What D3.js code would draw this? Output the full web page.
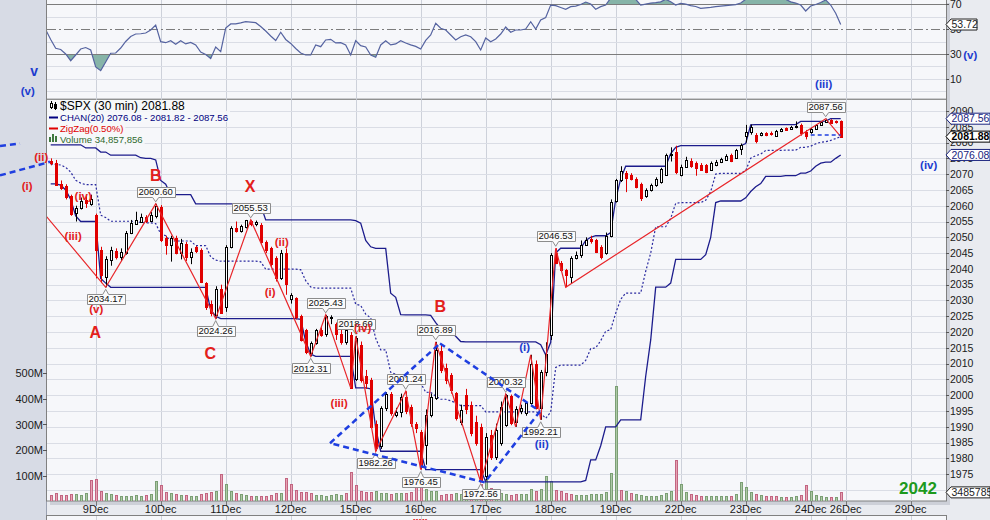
<!DOCTYPE html>
<html>
<head>
<meta charset="utf-8">
<title>$SPX 30 min</title>
<script src="https://d3js.org/d3.v7.min.js"></script>
<style>
body{margin:0;background:#e9ebf0;overflow:hidden}
svg{display:block}
text{font-family:"Liberation Sans",Arial,sans-serif}
</style>
</head>
<body>
<div id="chart"></div>
<script>
// 30 min bars, dec 8 11:30 -> dec 24 close (half day)
const dayStart = [9, 22, 35, 48, 61, 74, 87, 100, 113, 126, 139, 152, 159, 172]
const dayLabel = ['9Dec','10Dec','11Dec','12Dec','15Dec','16Dec','17Dec','18Dec','19Dec','22Dec','23Dec','24Dec','26Dec','29Dec']

const opens = [
  2074.2, 2073.6, 2067.0, 2066.3, 2063.1, 2057.6, 2059.2, 2061.8, 2060.6, 2057.0,
  2046.0, 2037.5, 2042.8, 2045.8, 2043.7, 2045.0, 2051.3, 2054.3, 2055.0, 2056.4,
  2055.2, 2056.6, 2059.7, 2049.7, 2047.6, 2049.7, 2045.0, 2048.0, 2043.7, 2047.0,
  2046.0, 2035.5, 2029.0, 2025.5, 2033.5, 2028.0, 2047.0, 2052.9, 2052.0, 2053.2,
  2055.3, 2054.2, 2054.0, 2048.6, 2046.5, 2043.4, 2037.0, 2045.0, 2030.4, 2030.7,
  2025.0, 2020.8, 2013.5, 2016.5, 2020.6, 2019.5, 2024.5, 2022.5, 2019.5, 2017.0,
  2019.0, 2005.0, 2016.0, 2006.0, 2004.8, 1991.0, 1984.0, 1995.8, 2000.5, 1993.8,
  1994.8, 1999.5, 1996.4, 1991.0, 1988.5, 1984.2, 1993.7, 1999.0, 2014.0, 2008.5,
  2006.4, 2000.6, 1991.5, 2000.0, 1997.0, 1991.4, 1990.0, 1974.4, 1987.4, 1980.5,
  1984.8, 1990.6, 1999.9, 1991.5, 1995.0, 1994.3, 1997.5, 2010.0, 1996.0, 2007.5,
  2019.0, 2045.0, 2042.0, 2039.7, 2037.5, 2043.4, 2044.5, 2047.7, 2049.4, 2049.0,
  2047.0, 2045.0, 2050.5, 2061.5, 2068.0, 2070.3, 2069.8, 2068.5, 2067.0, 2063.0,
  2065.0, 2066.5, 2067.5, 2069.8, 2076.0, 2077.0, 2069.8, 2072.3, 2074.3, 2073.5,
  2072.9, 2072.9, 2071.4, 2072.9, 2073.7, 2074.6, 2076.1, 2075.2, 2078.0, 2082.0,
  2083.5, 2082.5, 2082.4, 2083.0, 2083.0, 2082.2, 2083.6, 2084.5, 2084.2, 2084.8,
  2085.7, 2083.3, 2083.2, 2084.4, 2085.5, 2086.4, 2087.2, 2086.8, 2086.7
]
const highs = [
  2075.0, 2074.5, 2068.0, 2066.8, 2063.5, 2060.0, 2062.6, 2063.0, 2063.5, 2057.5,
  2047.0, 2044.0, 2047.0, 2046.5, 2046.5, 2052.0, 2055.5, 2058.1, 2057.5, 2057.0,
  2058.0, 2060.6, 2060.2, 2050.5, 2050.5, 2050.5, 2049.5, 2048.5, 2046.5, 2047.3,
  2046.5, 2035.8, 2030.0, 2034.5, 2035.0, 2047.5, 2053.5, 2055.0, 2054.0, 2055.5,
  2055.53, 2055.3, 2054.5, 2049.0, 2047.0, 2044.0, 2046.0, 2046.5, 2032.3, 2031.0,
  2025.5, 2021.0, 2017.0, 2021.0, 2021.5, 2025.43, 2025.3, 2023.0, 2021.0, 2021.0,
  2020.0, 2018.69, 2017.0, 2008.0, 2005.5, 1992.0, 1996.5, 2001.0, 2001.0, 1996.0,
  2000.5, 2001.24, 1997.0, 1991.5, 1989.0, 1995.5, 2000.5, 2016.89, 2016.0, 2010.0,
  2007.0, 2001.0, 1997.0, 2002.0, 1998.0, 1993.5, 1991.0, 1988.0, 1989.0, 1991.0,
  1998.0, 2000.32, 2000.2, 1996.5, 1997.0, 1998.0, 2012.8, 2011.0, 2008.0, 2016.75,
  2045.0, 2046.53, 2042.5, 2040.0, 2044.0, 2045.5, 2049.0, 2050.0, 2050.5, 2049.5,
  2047.5, 2051.5, 2062.0, 2068.5, 2072.5, 2071.0, 2070.3, 2069.0, 2067.3, 2065.5,
  2067.0, 2069.0, 2072.0, 2076.5, 2078.5, 2079.0, 2073.0, 2075.5, 2075.0, 2074.0,
  2073.5, 2073.2, 2074.0, 2074.5, 2075.2, 2076.3, 2076.5, 2078.0, 2079.7, 2085.6,
  2085.7, 2083.0, 2083.3, 2083.3, 2083.5, 2084.0, 2084.6, 2084.8, 2085.3, 2086.7,
  2086.0, 2084.0, 2084.7, 2085.8, 2086.8, 2087.56, 2087.4, 2087.0, 2087.0
]
const lows = [
  2072.8, 2066.5, 2065.0, 2062.0, 2056.8, 2055.0, 2058.8, 2059.3, 2060.0, 2037.0,
  2035.5, 2034.17, 2041.0, 2043.0, 2042.5, 2044.5, 2051.0, 2054.0, 2054.6, 2054.5,
  2054.8, 2056.0, 2048.5, 2044.5, 2042.3, 2044.6, 2043.0, 2042.5, 2041.5, 2045.0,
  2035.5, 2027.0, 2025.0, 2024.26, 2025.8, 2026.4, 2046.5, 2051.5, 2051.5, 2052.8,
  2053.5, 2053.5, 2048.0, 2045.0, 2040.5, 2036.0, 2036.5, 2031.8, 2029.0, 2024.0,
  2017.0, 2013.0, 2012.31, 2016.0, 2018.5, 2018.5, 2022.5, 2017.5, 2016.0, 2016.0,
  2002.33, 2004.5, 2004.0, 2002.0, 1989.5, 1982.26, 1983.0, 1995.0, 1993.5, 1993.0,
  1993.0, 1994.0, 1990.0, 1988.0, 1976.45, 1978.0, 1993.0, 1998.5, 2007.0, 2003.5,
  2000.5, 1992.0, 1990.5, 1994.0, 1987.0, 1984.0, 1972.56, 1973.0, 1979.5, 1979.5,
  1984.0, 1990.0, 1990.5, 1990.0, 1994.0, 1993.5, 1997.0, 1995.5, 1992.21, 2006.0,
  2017.5, 2041.5, 2039.0, 2034.2, 2035.5, 2043.0, 2043.5, 2047.3, 2048.0, 2045.0,
  2043.0, 2044.5, 2050.0, 2061.0, 2067.5, 2064.3, 2068.0, 2065.5, 2061.5, 2062.5,
  2064.5, 2066.0, 2067.0, 2069.5, 2074.0, 2070.0, 2069.3, 2072.0, 2072.0, 2069.5,
  2071.0, 2070.3, 2071.0, 2072.5, 2073.5, 2074.3, 2073.8, 2075.0, 2076.08, 2080.0,
  2082.5, 2079.77, 2082.0, 2082.0, 2082.2, 2082.0, 2083.3, 2083.7, 2084.0, 2084.5,
  2082.2, 2081.0, 2082.8, 2084.2, 2085.3, 2086.2, 2085.9, 2086.0, 2081.86
]
const closes = [
  2073.6, 2066.6, 2065.5, 2062.8, 2057.4, 2059.2, 2061.6, 2060.8, 2062.1, 2046.0,
  2038.0, 2043.0, 2046.0, 2043.7, 2045.5, 2051.3, 2054.5, 2055.5, 2056.4, 2055.2,
  2057.0, 2059.8, 2049.2, 2047.6, 2049.7, 2045.0, 2048.1, 2043.7, 2045.5, 2045.7,
  2036.0, 2028.0, 2026.0, 2033.5, 2026.1, 2047.0, 2052.9, 2052.0, 2053.5, 2055.5,
  2054.2, 2054.9, 2048.6, 2046.0, 2041.5, 2037.0, 2045.0, 2035.3, 2031.8, 2024.9,
  2017.5, 2013.8, 2016.5, 2020.6, 2019.0, 2025.0, 2024.9, 2019.5, 2017.0, 2020.5,
  2002.33, 2018.0, 2004.8, 2004.0, 1990.0, 1983.2, 1995.8, 2000.5, 1994.5, 1994.8,
  1999.5, 1995.0, 1991.1, 1989.6, 1977.4, 1993.7, 1999.4, 2014.3, 2008.0, 2004.8,
  2001.7, 1992.7, 1995.3, 1995.5, 1988.0, 1984.8, 1972.8, 1986.9, 1980.5, 1989.0,
  1996.4, 2000.0, 1991.1, 1995.5, 1996.0, 1997.5, 2010.0, 1996.0, 2007.5, 2012.9,
  2044.4, 2042.0, 2039.7, 2038.0, 2043.4, 2044.5, 2047.5, 2049.2, 2048.7, 2045.5,
  2043.8, 2050.5, 2061.2, 2068.0, 2071.0, 2068.7, 2068.5, 2066.0, 2062.5, 2065.0,
  2066.5, 2068.5, 2071.5, 2076.0, 2076.5, 2070.7, 2072.3, 2074.5, 2072.7, 2072.0,
  2071.4, 2070.8, 2073.5, 2074.0, 2074.7, 2075.9, 2074.3, 2077.7, 2079.2, 2083.5,
  2085.0, 2080.5, 2083.0, 2082.4, 2082.6, 2083.6, 2084.2, 2084.1, 2085.0, 2085.3,
  2083.0, 2082.2, 2084.4, 2085.5, 2086.5, 2087.1, 2086.2, 2086.5, 2081.88
]
// 20 bars before the first visible one, only feed the price channel
const preHighs = [2076.5, 2077.5, 2078.0, 2078.5, 2078.8, 2079.0, 2079.3, 2078.0, 2077.8, 2078.3,
  2076.5, 2077.0, 2075.5, 2075.0, 2074.5, 2075.5, 2075.8, 2076.0, 2075.2, 2074.8]
const preLows = [2070.5, 2071.0, 2072.0, 2071.5, 2070.8, 2071.2, 2072.5, 2072.0, 2071.0, 2070.0,
  2069.5, 2070.2, 2071.0, 2070.0, 2069.0, 2068.5, 2068.0, 2067.5, 2066.9, 2068.0]

// volume in millions, r = down bar, g = up bar
const volumes = [
  25, 31, 25, 25, 27, 29, 25, 31, 83, 87,
  40, 31, 29, 25, 21, 21, 21, 25, 21, 25,
  29, 79, 64, 35, 31, 29, 25, 25, 21, 21,
  29, 33, 36, 40, 107, 68, 40, 33, 29, 25,
  21, 21, 21, 21, 25, 33, 33, 91, 68, 44,
  36, 36, 33, 25, 25, 21, 24, 29, 25, 34,
  116, 64, 42, 38, 38, 42, 34, 31, 29, 34,
  34, 31, 38, 77, 94, 47, 42, 42, 25, 29,
  29, 34, 29, 29, 29, 34, 68, 86, 51, 42,
  34, 29, 25, 29, 29, 29, 47, 42, 47, 99,
  81, 44, 42, 34, 29, 25, 25, 25, 29, 29,
  29, 38, 109, 450, 44, 42, 34, 29, 25, 21,
  21, 21, 25, 31, 40, 161, 68, 38, 29, 25,
  21, 21, 21, 21, 21, 21, 21, 29, 75, 57,
  38, 29, 25, 21, 21, 21, 18, 18, 18, 21,
  25, 64, 40, 25, 21, 18, 18, 18, 34.86
]
const volDir = 'rrrrrgggrr' + 'rggrgggggr' + 'ggrrgrgrgg' + 'rrrgrggrgg' + 'rgrrrrgrrr' +
  'rrrggggggr' + 'rrrrrgggrg' + 'grrrrgggrr' + 'rgggrgrgrg' + 'ggrrgggrgg' +
  'grrrrggggg' + 'ggggrgrggg' + 'gggggrggrr' + 'rgggggrggg' + 'grgrrrgrgg' + 'rrggggrgr'

// RSI, first value belongs to bar -1
const rsiValues = [49.5,
  41.7, 34.6, 33.6, 30.0, 24.6, 29.2, 34.0, 35.2, 33.2, 19.6,
  16.6, 23.6, 30.6, 30.8, 34.8, 40.1, 44.1, 46.1, 46.3, 46.9,
  49.3, 53.3, 39.9, 39.1, 40.7, 37.8, 40.7, 38.1, 39.3, 37.3,
  31.6, 29.6, 26.4, 35.6, 31.9, 50.9, 54.2, 54.2, 55.0, 56.0,
  55.6, 55.2, 52.1, 48.5, 44.5, 40.9, 47.5, 41.7, 38.5, 34.4,
  30.8, 29.2, 29.2, 37.3, 35.9, 41.3, 41.8, 38.9, 39.1, 37.3,
  29.2, 40.7, 36.7, 35.6, 29.2, 27.4, 37.3, 40.7, 37.3, 38.1,
  40.7, 38.9, 37.3, 36.1, 34.0, 40.9, 45.3, 54.7, 50.7, 49.3,
  45.3, 41.3, 43.9, 45.3, 43.9, 39.9, 33.2, 42.9, 39.9, 42.1,
  46.1, 51.7, 47.5, 49.3, 49.3, 50.1, 56.0, 50.1, 57.4, 59.4,
  69.4, 68.9, 67.4, 66.0, 68.1, 68.6, 69.8, 71.8, 70.2, 66.0,
  68.1, 69.4, 75, 78, 80, 79, 77, 74, 69.4, 70.2,
  71.0, 71.3, 72.0, 74, 72, 69.4, 70.8, 70.2, 69.0, 68.2,
  66.8, 67.2, 67.6, 68.1, 68.6, 69.0, 69.4, 69.8, 71.0, 74,
  77, 78, 76, 79, 80, 78, 76, 74, 72, 71,
  69.4, 64.6, 68.6, 69.8, 71.4, 73.5, 69.4, 62.8, 53.72
]

// zigzag 0.5% turning points
const zzBar = [-11, 11, 21, 33, 40, 52, 55, 60, 61, 65, 71, 74, 77, 86, 91, 93, 96, 98, 101, 103, 155, 158]
const zzPrice = [2075.8, 2034.17, 2060.60, 2024.26, 2055.53, 2012.31, 2025.43, 2002.33, 2018.69, 1982.26,
  2001.24, 1976.45, 2016.89, 1972.56, 2000.32, 1990.0, 2012.8, 1992.21, 2046.53, 2034.2, 2087.56, 2081.88]
const zzShown = [0, 1, 1, 1, 1, 1, 1, 0, 1, 1, 1, 1, 1, 1, 1, 0, 0, 1, 1, 0, 1, 0]

// wave counts: [text, bar, price]
const redWaves = [['(ii)', -1.9, 2074.2], ['(i)', -4.7, 2065.0], ['(iv)', 6.5, 2061.8], ['(iii)', 4.5, 2049.1],
  ['(v)', 9.1, 2026.0], ['A', 8.9, 2018.1], ['B', 21.0, 2067.8], ['C', 31.9, 2011.5], ['X', 39.9, 2064.3],
  ['(ii)', 46.2, 2047.2], ['(i)', 43.9, 2031.4], ['(iv)', 62.4, 2020.0], ['(iii)', 57.7, 1996.3],
  ['B', 77.9, 2026.3], ['(iii)', 73.9, 1958.3]]
const blueWaves = [['v', -3.3, 2101.1], ['(v)', -4.6, 2095.1], ['(iii)', 154.6, 2097.3], ['(v)', 183.9, 2106.5],
  ['(iv)', 175.6, 2071.6], ['(i)', 94.8, 2014.0], ['(ii)', 98.2, 1983.3]]
const trendLines = [
  [[55.86, 1984.8], [77.86, 2016.4]], [[77.86, 2016.4], [97.86, 1994.9]],
  [[97.86, 1994.9], [86.8, 1972.4]], [[86.8, 1972.4], [55.86, 1984.8]],
  [[-10.14, 2069.6], [-0.14, 2073.9]], [[-10.14, 2078.9], [-6.14, 2079.7]]
]
const flatLine = [152, 158, 2082.4]

const W = 990, H = 520
const left = 47, right = 946
const priceTop = 99.3, priceBottom = 501

const x = d3.scaleLinear().domain([-0.74, 179.06]).range([left, right])
const y = d3.scaleLinear().domain([1966.5, 2093.7]).range([priceBottom, priceTop])
const yVol = d3.scaleLinear().domain([0, 100]).range([501.3, 475.7])
const yRsi = d3.scaleLinear().domain([30, 70]).range([54, 4.3])
const px = v => Math.round(v) + 0.5

const svg = d3.select('#chart').append('svg').attr('width', W).attr('height', H)
const defs = svg.append('defs')
function clip(id, x0, y0, x1, y1) {
  defs.append('clipPath').attr('id', id).append('rect')
    .attr('x', x0).attr('y', y0).attr('width', x1 - x0).attr('height', y1 - y0)
}
clip('clipPrice', left, priceTop, right, priceBottom)
clip('clipRsi', left, -10, right, priceTop)
clip('clipAbove70', left, -10, right, yRsi(70))
clip('clipBelow30', left, yRsi(30), right, priceTop)

// backgrounds
svg.append('rect').attr('width', W).attr('height', H).attr('fill', '#e9ebf0')
svg.append('rect').attr('width', 46).attr('height', H).attr('fill', '#d7dbe5')
svg.append('line').attr('x1', 46.5).attr('x2', 46.5).attr('y1', 0).attr('y2', H).attr('stroke', '#9aa1b1')
svg.append('rect').attr('x', right).attr('y', 3).attr('width', 4).attr('height', priceBottom + 1).attr('fill', '#cdd0d8')
svg.append('rect').attr('x', left + 3).attr('y', priceBottom).attr('width', right - left + 1).attr('height', 4).attr('fill', '#cdd0d8')
;[[-5, priceTop], [priceTop, priceBottom], [515.5, 540]].forEach(p => {
  svg.append('rect').attr('x', 46.5).attr('y', p[0]).attr('width', right - 46).attr('height', p[1] - p[0])
    .attr('fill', '#f6f7fa').attr('stroke', '#808080')
})

// day grid
const grid = svg.append('g').attr('stroke', '#cdd1da')
dayStart.forEach(d => {
  [[0, priceTop], [priceTop, priceBottom], [516, 540]].forEach(p => {
    grid.append('line').attr('x1', px(x(d))).attr('x2', px(x(d))).attr('y1', p[0]).attr('y2', p[1])
  })
  grid.append('line').attr('x1', px(x(d))).attr('x2', px(x(d))).attr('y1', priceBottom).attr('y2', priceBottom + 5).attr('stroke', '#777')
})
d3.range(1970, 2091, 5).forEach(p => {
  grid.append('line').attr('x1', left).attr('x2', right).attr('y1', px(y(p))).attr('y2', px(y(p))).attr('stroke', '#dadde5')
})

// RSI panel
const rsiG = svg.append('g').attr('clip-path', 'url(#clipRsi)')
;[0, 10, 20, 40, 60].forEach(v => {
  rsiG.append('line').attr('x1', left).attr('x2', right).attr('y1', px(yRsi(v))).attr('y2', px(yRsi(v))).attr('stroke', '#dadde5')
})
const rsiPts = rsiValues.map((v, k) => ({i: k - 1, v}))
const rsiArea = d3.area().x(d => x(d.i)).y1(d => yRsi(d.v))
rsiG.append('path').datum(rsiPts).attr('d', rsiArea.y0(yRsi(70))).attr('fill', '#86b4a8').attr('clip-path', 'url(#clipAbove70)')
rsiG.append('path').datum(rsiPts).attr('d', rsiArea.y0(yRsi(30))).attr('fill', '#86b4a8').attr('clip-path', 'url(#clipBelow30)')
;[30, 70].forEach(v => {
  rsiG.append('line').attr('x1', left).attr('x2', right).attr('y1', px(yRsi(v))).attr('y2', px(yRsi(v))).attr('stroke', '#7c7c7c').attr('stroke-width', 1.2)
})
rsiG.append('line').attr('x1', left).attr('x2', right).attr('y1', px(yRsi(50))).attr('y2', px(yRsi(50)))
  .attr('stroke', '#7c7c7c').attr('stroke-dasharray', '9,3,2,3')
rsiG.append('path').datum(rsiPts).attr('fill', 'none').attr('stroke', '#5563a0').attr('stroke-width', 1.2)
  .attr('d', d3.line().x(d => x(d.i)).y(d => yRsi(d.v)))

// price panel
const pg = svg.append('g').attr('clip-path', 'url(#clipPrice)')
const bars = closes.map((c, i) => ({i, o: opens[i], h: highs[i], l: lows[i], c, v: volumes[i], dir: volDir[i]}))

pg.selectAll('rect.vol').data(bars).join('rect').attr('class', 'vol')
  .attr('x', d => Math.round(x(d.i)) - 0.5).attr('width', 2)
  .attr('y', d => px(yVol(d.v))).attr('height', d => Math.max(0, px(yVol(0)) - px(yVol(d.v))))
  .attr('fill', d => d.dir === 'r' ? '#e7a3b3' : '#adc8a6')
  .attr('stroke', d => d.dir === 'r' ? '#c26581' : '#7b9f74')

// price channel 20: highest high / lowest low of the previous 20 bars
const allHighs = preHighs.concat(highs), allLows = preLows.concat(lows)
const chan = bars.map(d => {
  const k = d.i + preHighs.length
  const up = d3.max(allHighs.slice(k - 20, k)), lo = d3.min(allLows.slice(k - 20, k))
  return {i: d.i, up, lo, mid: (up + lo) / 2}
})
const chanLine = key => d3.line().x(d => x(d.i)).y(d => y(d[key]))
pg.append('path').datum(chan).attr('d', chanLine('up')).attr('fill', 'none').attr('stroke', '#1c1c8c').attr('stroke-width', 1.3)
pg.append('path').datum(chan).attr('d', chanLine('lo')).attr('fill', 'none').attr('stroke', '#1c1c8c').attr('stroke-width', 1.3)
pg.append('path').datum(chan).attr('d', chanLine('mid')).attr('fill', 'none').attr('stroke', '#2a2aa0').attr('stroke-width', 1.2).attr('stroke-dasharray', '2,2')

// candles
const red = '#e00000'
pg.selectAll('line.wick').data(bars).join('line').attr('class', 'wick')
  .attr('x1', d => px(x(d.i))).attr('x2', d => px(x(d.i)))
  .attr('y1', d => y(d.h)).attr('y2', d => y(d.l))
  .attr('stroke', d => d.c >= d.o ? '#000' : red)
pg.selectAll('rect.body').data(bars).join('rect').attr('class', 'body')
  .attr('x', d => px(x(d.i)) - 1).attr('width', 2)
  .attr('y', d => px(y(Math.max(d.o, d.c))))
  .attr('height', d => Math.max(0.5, px(y(Math.min(d.o, d.c))) - px(y(Math.max(d.o, d.c)))))
  .attr('fill', d => d.c >= d.o ? '#fff' : red)
  .attr('stroke', d => d.c >= d.o ? '#000' : red)

// zigzag
const zz = zzBar.map((b, k) => ({i: b, p: zzPrice[k], shown: zzShown[k]}))
pg.append('path').datum(zz).attr('fill', 'none').attr('stroke', '#e8262a').attr('stroke-width', 1.2)
  .attr('d', d3.line().x(d => x(d.i)).y(d => y(d.p)))

const fmt2 = d3.format('.2f')
const zzG = svg.append('g')
zz.forEach((d, k) => {
  if (!d.shown) return
  const isHigh = d.p > zz[k - 1].p
  const vx = x(d.i), vy = y(d.p)
  const g = zzG.append('g')
  const t = g.append('text').attr('x', vx).attr('y', isHigh ? vy - 8.8 : vy + 15.2)
    .attr('text-anchor', 'middle').style('font-size', '9.5px').attr('fill', '#111').text(fmt2(d.p))
  const w = t.node().getComputedTextLength() + 4
  const x0 = Math.round(vx - w / 2) + 0.5, x1 = Math.round(vx + w / 2) + 0.5
  const top = Math.round(isHigh ? vy - 17 : vy + 7) + 0.5, bot = top + 10
  const tip = isHigh ? vy - 2 : vy + 2
  const path = isHigh
    ? `M${x0},${top}H${x1}V${bot}H${vx + 3}L${vx},${tip}L${vx - 3},${bot}H${x0}Z`
    : `M${x0},${top}H${vx - 3}L${vx},${tip}L${vx + 3},${top}H${x1}V${bot}H${x0}Z`
  g.insert('path', 'text').attr('d', path).attr('fill', '#fbfbfb').attr('stroke', '#8c8c8c')
})

// blue dashed trend lines
const annG = svg.append('g')
trendLines.forEach(l => {
  annG.append('line').attr('x1', x(l[0][0])).attr('y1', y(l[0][1])).attr('x2', x(l[1][0])).attr('y2', y(l[1][1]))
    .attr('stroke', '#1f3fe0').attr('stroke-width', 2.5).attr('stroke-dasharray', '6,4')
})
annG.append('line').attr('x1', x(flatLine[0])).attr('x2', x(flatLine[1])).attr('y1', y(flatLine[2])).attr('y2', y(flatLine[2]))
  .attr('stroke', '#1f3fe0').attr('stroke-width', 1.4).attr('stroke-dasharray', '4,3')

function waveText(list, color) {
  list.forEach(w => {
    annG.append('text').attr('x', x(w[1])).attr('y', y(w[2])).attr('text-anchor', 'middle')
      .attr('fill', color).style('font-weight', 'bold')
      .style('font-size', w[0].length === 1 ? (w[0] === 'v' ? '14px' : '16px') : '11.5px')
      .text(w[0])
  })
}
waveText(redWaves, '#e3201b')
waveText(blueWaves, '#1d3ccf')

// axes
const ax = svg.append('g').style('font-size', '10.5px').attr('fill', '#1a1a1a')
d3.range(1975, 2091, 5).forEach(p => {
  ax.append('line').attr('x1', right).attr('x2', right + 3).attr('y1', px(y(p))).attr('y2', px(y(p))).attr('stroke', '#555')
  ax.append('text').attr('x', right + 4).attr('y', y(p) + 3.8).text(p)
})
;[70, 50, 30, 10].forEach(v => {
  ax.append('line').attr('x1', right).attr('x2', right + 3).attr('y1', px(yRsi(v))).attr('y2', px(yRsi(v))).attr('stroke', '#555')
  ax.append('text').attr('x', right + 4).attr('y', yRsi(v) + 3.8).text(v)
})
d3.range(100, 501, 100).forEach(v => {
  ax.append('line').attr('x1', 43).attr('x2', 47).attr('y1', px(yVol(v))).attr('y2', px(yVol(v))).attr('stroke', '#555')
  ax.append('text').attr('x', 43).attr('y', yVol(v) + 4).attr('text-anchor', 'end').style('font-size', '11px').text(v + 'M')
})
dayStart.forEach((d, k) => {
  ax.append('text').attr('x', x(d)).attr('y', 513).attr('text-anchor', 'middle').style('font-size', '11px').text(dayLabel[k])
})

function tagBox(yc, label, color, w, bold) {
  const g = svg.append('g')
  g.append('path').attr('d', `M${right},${yc}L${right + 5},${yc - 5.5}H${right + w}V${yc + 5.5}H${right + 5}Z`)
    .attr('fill', '#fff').attr('stroke', color)
  g.append('text').attr('x', right + 5.5).attr('y', yc + 3.8).attr('fill', color)
    .style('font-size', '10.5px').style('font-weight', bold ? 'bold' : 'normal').text(label)
}
tagBox(yRsi(53.72), '53.72', '#222', 31, false)
tagBox(y(2087.56), '2087.56', '#1a237e', 44, false)
tagBox(y(2076.08), '2076.08', '#1a237e', 44, false)
tagBox(y(2081.88), '2081.88', '#000', 44, true)
tagBox(yVol(34.86), '3485785', '#222', 44, false)

// legend
const lg = svg.append('g')
const legendRows = [
  ['$SPX (30 min) 2081.88', '#000', '12px', 110],
  ['CHAN(20) 2076.08 - 2081.82 - 2087.56', '#000080', '9.6px', 121],
  ['ZigZag(0.50%)', '#e00000', '9.6px', 132],
  ['Volume 34,857,856', '#2f6a2f', '9.6px', 143]
]
legendRows.forEach(r => {
  const t = lg.append('text').attr('x', 60).attr('y', r[3]).attr('fill', r[1]).style('font-size', r[2]).text(r[0])
  const w = t.node().getComputedTextLength()
  lg.insert('rect', 'text').attr('x', 47).attr('y', r[3] - 10).attr('width', w + 15).attr('height', 11)
    .attr('fill', '#f6f7fa').attr('opacity', 0.9)
})
lg.append('line').attr('x1', 51.5).attr('x2', 51.5).attr('y1', 101).attr('y2', 109).attr('stroke', '#000')
lg.append('rect').attr('x', 50.5).attr('y', 103.5).attr('width', 2).attr('height', 4).attr('fill', '#fff').attr('stroke', '#000')
lg.append('line').attr('x1', 55.5).attr('x2', 55.5).attr('y1', 102).attr('y2', 110).attr('stroke', '#000')
lg.append('rect').attr('x', 54.5).attr('y', 104.5).attr('width', 2).attr('height', 4).attr('fill', '#000').attr('stroke', '#000')
lg.append('line').attr('x1', 49).attr('x2', 58).attr('y1', 117.5).attr('y2', 117.5).attr('stroke', '#000080').attr('stroke-width', 2)
lg.append('line').attr('x1', 49).attr('x2', 58).attr('y1', 128.5).attr('y2', 128.5).attr('stroke', '#e00000').attr('stroke-width', 2)
;[[49, 5], [52, 8], [55, 6]].forEach(b => {
  lg.append('rect').attr('x', b[0]).attr('y', 142 - b[1]).attr('width', 2).attr('height', b[1]).attr('fill', '#3f7a3f')
})

svg.append('text').attr('x', 918).attr('y', 494).attr('text-anchor', 'middle')
  .style('font-size', '17px').style('font-weight', 'bold').attr('fill', '#1d9a1d').text('2042')
</script>
</body>
</html>
